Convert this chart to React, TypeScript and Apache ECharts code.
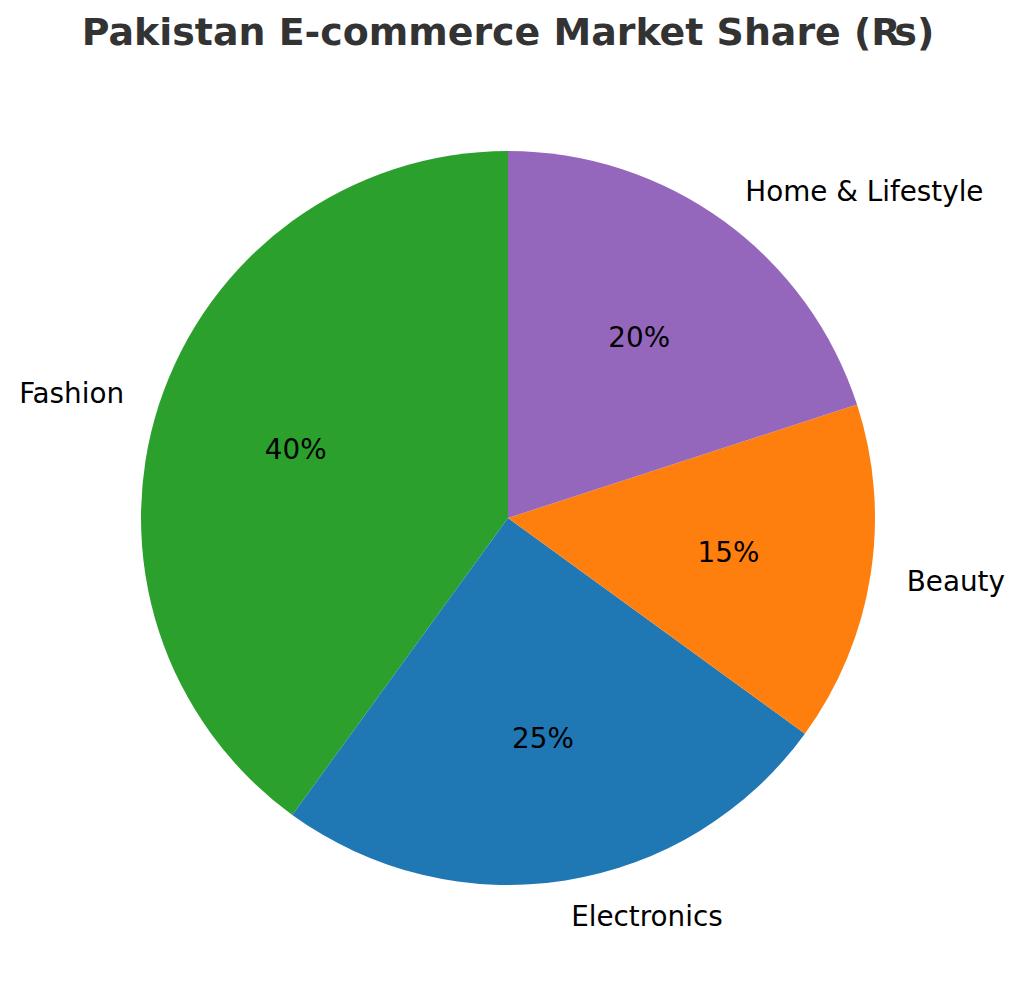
import { useEffect, useRef } from 'react'
import * as echarts from 'echarts'

// ===== 数据 =====
const categories = ['Fashion', 'Electronics', 'Beauty', 'Home & Lifestyle']
const shares = [40, 25, 15, 20]
const sliceColors = ['#2ca02c', '#1f77b4', '#ff7f0e', '#9467bd']

const TITLE = 'Pakistan E-commerce Market Share (₨)'
const FONT = "'DejaVu Sans', sans-serif"

// 饼图几何
const CX = 508
const CY = 518
const R = 367

export default function App() {
  const ref = useRef<HTMLDivElement>(null)

  useEffect(() => {
    document.body.style.margin = '0'
    if (!ref.current) return
    const chart = echarts.init(ref.current, null, { renderer: 'svg' })

    const data = categories.map((name, i) => ({
      name,
      value: shares[i],
      itemStyle: { color: sliceColors[i] },
    }))

    chart.setOption({
      animation: false,
      backgroundColor: '#ffffff',
      title: {
        text: TITLE,
        left: CX,
        top: 13,
        padding: 0,
        textAlign: 'center',
        textStyle: {
          fontFamily: FONT,
          fontWeight: 'bold',
          fontSize: 37.9,
          color: '#333333',
        },
      },
      series: [
        {
          // 扇区 + 外侧类别标签
          type: 'pie',
          center: [CX, CY],
          radius: [0, R],
          startAngle: 90,
          clockwise: false,
          avoidLabelOverlap: false,
          silent: true,
          data,
          label: {
            show: true,
            position: 'outside',
            formatter: '{b}',
            fontFamily: FONT,
            fontSize: 27.8,
            color: '#000000',
            distanceToLabelLine: 0,
          },
          labelLine: { show: false, length: R * 0.1, length2: 0 },
        },
        {
          // 百分比标签（0.6R 处）
          type: 'pie',
          center: [CX, CY],
          radius: [R * 0.2, R],
          startAngle: 90,
          clockwise: false,
          avoidLabelOverlap: false,
          silent: true,
          data: categories.map((name, i) => ({ name, value: shares[i] })),
          itemStyle: { color: 'rgba(0,0,0,0)', borderWidth: 0 },
          label: {
            show: true,
            position: 'inside',
            formatter: '{c}%',
            fontFamily: FONT,
            fontSize: 27.8,
            color: '#000000',
          },
          labelLine: { show: false },
        },
      ],
    })

    return () => chart.dispose()
  }, [])

  return <div ref={ref} style={{ width: 1024, height: 994 }} />
}
